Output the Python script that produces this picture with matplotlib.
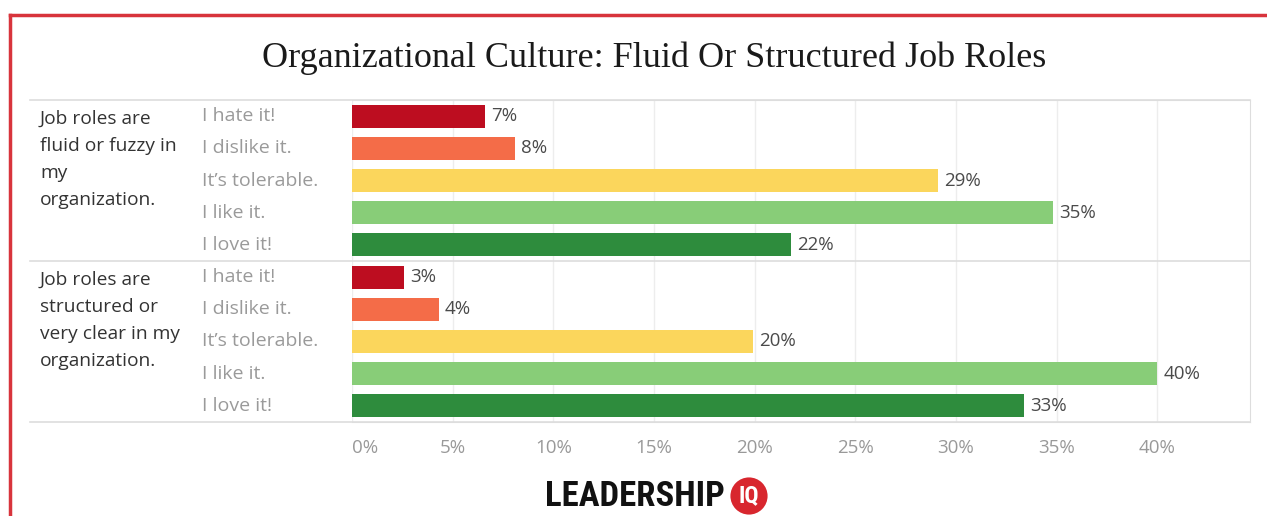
import matplotlib.pyplot as plt
from matplotlib import font_manager
from matplotlib.lines import Line2D
from matplotlib.transforms import blended_transform_factory

title = "Organizational Culture: Fluid Or Structured Job Roles"
groups = ["Job roles are\nfluid or fuzzy in\nmy\norganization.",
          "Job roles are\nstructured or\nvery clear in my\norganization."]
answers = ["I hate it!", "I dislike it.", "It\u2019s tolerable.", "I like it.", "I love it!"]
fluid = [6.6, 8.1, 29.1, 34.8, 21.8]
structured = [2.6, 4.3, 19.9, 40.0, 33.4]
colors = ["#bd0d20", "#f46c48", "#fbd65c", "#88cd78", "#2e8c3d"]
xticks = [0, 5, 10, 15, 20, 25, 30, 35, 40]

# pick a narrow bold face for the logo if one is installed
logo_font, logo_stretch, logo_size = "DejaVu Sans", "normal", 18.5
fonts = font_manager.fontManager.ttflist
names = {f.name for f in fonts}
for cand in ["Liberation Sans Narrow", "Roboto Condensed", "Open Sans Condensed", "DejaVu Sans Condensed"]:
    if cand in names:
        logo_font, logo_size = cand, 25
        break
else:
    if any(f.name == "DejaVu Sans" and f.stretch == "condensed" and f.weight == 700 for f in fonts):
        logo_stretch, logo_size = "condensed", 21

W, H = 1267, 516
fig = plt.figure(figsize=(W / 100, H / 100), dpi=100)
fig.patch.set_facecolor("white")

# red frame (top + left)
fig.add_artist(Line2D([10 / W, 1], [1 - 15 / H] * 2, color="#d8343c", lw=2.5))
fig.add_artist(Line2D([10 / W] * 2, [0, 1 - 15 / H], color="#d8343c", lw=2.5))

fig.text(654 / W, 1 - 58 / H, title, ha="center", va="center",
         family="Liberation Serif", fontsize=26, color="#1a1a1a")

left, right, top, bottom = 352, 1250, 100, 422
ax = fig.add_axes([left / W, 1 - bottom / H, (right - left) / W, (bottom - top) / H])

sans = "Open Sans"
for g, vals in enumerate([fluid, structured]):
    for i, v in enumerate(vals):
        y = g * 5 + i
        ax.barh(y, v, height=0.72, color=colors[i], zorder=3)
        ax.text(v + 0.3, y, "%.0f%%" % v, va="center", ha="left",
                fontsize=13.5, color="#4a4a4a", family=sans, zorder=4)

ax.set_xlim(0, 44.6)
ax.set_ylim(9.5, -0.5)
ax.set_yticks([])
ax.set_xticks(xticks)
ax.set_xticklabels(["%d%%" % t for t in xticks], family=sans, fontsize=13.5, color="#999999")
ax.get_xticklabels()[0].set_ha("left")
ax.tick_params(axis="x", length=0, pad=12)
ax.grid(axis="x", color="#ededed", lw=1, zorder=0)
ax.spines["left"].set_visible(False)
for s in ["top", "right", "bottom"]:
    ax.spines[s].set_color("#dddddd")

# horizontal rules across label area
x0 = (30 - left) / (right - left)
for yy in [-0.5, 4.5, 9.5]:
    ax.axhline(yy, xmin=x0, xmax=1, color="#dddddd", lw=1.2, clip_on=False, zorder=5)

trans = blended_transform_factory(fig.transFigure, ax.transData)
for g, label in enumerate(groups):
    for k, line in enumerate(label.split("\n")):
        ax.text(40 / W, g * 5 + 0.08 + k * 0.84, line, transform=trans, ha="left", va="center",
                fontsize=13.8, color="#333333", family=sans)
    for i, a in enumerate(answers):
        ax.text(202 / W, g * 5 + i, a, transform=trans, ha="left", va="center",
                fontsize=14, color="#9a9a9a", family=sans)

# logo
fig.text(725 / W, 1 - 496 / H, "LEADERSHIP", ha="right", va="center",
         family=logo_font, fontstretch=logo_stretch, fontweight="bold",
         fontsize=logo_size, color="#111111")
fig.text(749 / W, 1 - 496 / H, "IQ", ha="center", va="center",
         family=logo_font, fontstretch=logo_stretch, fontweight="bold", fontsize=17, color="white",
         bbox=dict(boxstyle="circle,pad=0.3", fc="#d8262e", ec="none"))

fig.savefig("out.png", dpi=100)
